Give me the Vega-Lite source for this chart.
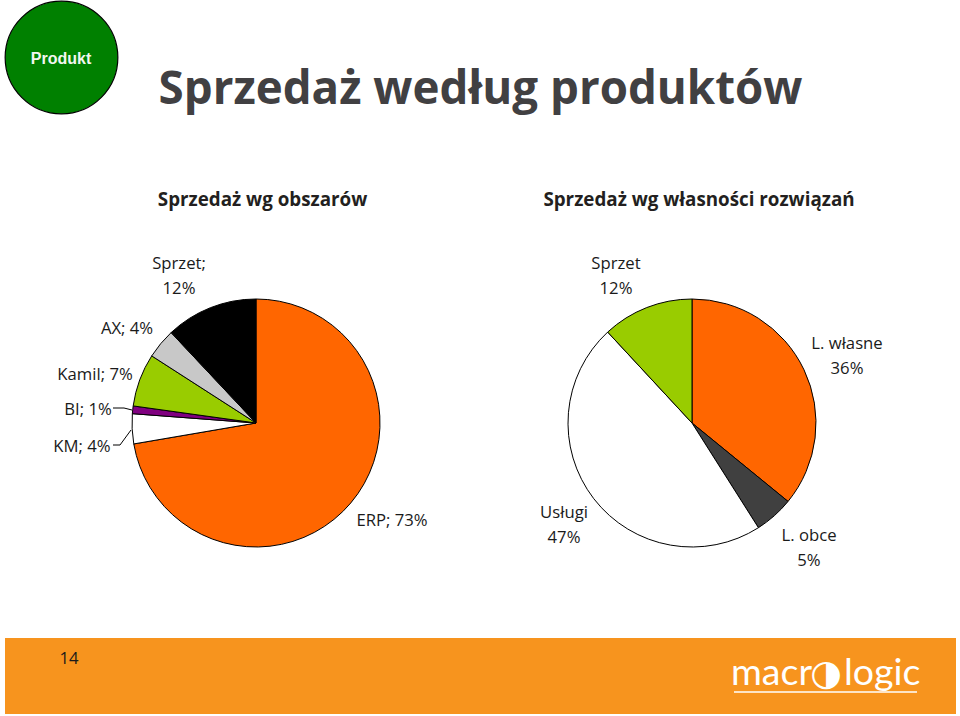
{
"$schema":"https://vega.github.io/schema/vega-lite/v6.json",
"width":960,"height":716,"autosize":"none","padding":0,"background":"white",
"config":{"view":{"stroke":null}},
"resolve":{"scale":{"x":"independent","y":"independent","color":"independent","theta":"independent"}},
"layer":[
{"data":{"values":[{"x":5,"x2":956,"y":638,"y2":714}]},"mark":{"type":"rect","fill":"#f7941e"},
"encoding":{"x":{"field":"x","type":"quantitative","scale":{"domain":[0,960]},"axis":null},"x2":{"field":"x2"},"y":{"field":"y","type":"quantitative","scale":{"domain":[716,0]},"axis":null},"y2":{"field":"y2"}}},
{"data":{"values":[{"x":61.5,"y":57.5}]},"mark":{"type":"circle","size":12700,"fill":"#008000","stroke":"#000000","strokeWidth":1.2,"opacity":1},
"encoding":{"x":{"field":"x","type":"quantitative","scale":{"domain":[0,960]},"axis":null},"y":{"field":"y","type":"quantitative","scale":{"domain":[716,0]},"axis":null}}},
{"data":{"values":[{"x":61,"y":58.5,"t":"Produkt"}]},"mark":{"type":"text","font":"Liberation Sans","fontWeight":"bold","fontSize":16,"fill":"#f2f7f0","align":"center","baseline":"middle"},
"encoding":{"x":{"field":"x","type":"quantitative","scale":{"domain":[0,960]},"axis":null},"y":{"field":"y","type":"quantitative","scale":{"domain":[716,0]},"axis":null},"text":{"field":"t"}}},
{"data":{"values":[{"x":480.5,"y":90,"t":"Sprzedaż według produktów"}]},"mark":{"type":"text","font":"Open Sans","fontWeight":"bold","fontSize":45.7,"fill":"#414042","align":"center","baseline":"middle"},
"encoding":{"x":{"field":"x","type":"quantitative","scale":{"domain":[0,960]},"axis":null},"y":{"field":"y","type":"quantitative","scale":{"domain":[716,0]},"axis":null},"text":{"field":"t"}}},
{"data":{"values":[{"x":262.5,"y":200,"t":"Sprzedaż wg obszarów"},{"x":699,"y":200,"t":"Sprzedaż wg własności rozwiązań"}]},"mark":{"type":"text","font":"Open Sans","fontWeight":"bold","fontSize":18.8,"fill":"#231f20","align":"center","baseline":"middle"},
"encoding":{"x":{"field":"x","type":"quantitative","scale":{"domain":[0,960]},"axis":null},"y":{"field":"y","type":"quantitative","scale":{"domain":[716,0]},"axis":null},"text":{"field":"t"}}},
{"data":{"values":[
{"pie":"obszary","key":"ERP","value":72.3,"o":1},{"pie":"obszary","key":"KM","value":3.9,"o":2},{"pie":"obszary","key":"BI","value":1,"o":3},{"pie":"obszary","key":"Kamil","value":6.9,"o":4},{"pie":"obszary","key":"AX","value":3.9,"o":5},{"pie":"obszary","key":"Sprzet","value":12,"o":6},
{"pie":"własność","key":"L. własne","value":35.9,"o":1},{"pie":"własność","key":"L. obce","value":5.1,"o":2},{"pie":"własność","key":"Usługi","value":47.1,"o":3},{"pie":"własność","key":"Sprzet własność","value":11.9,"o":4}]},
"transform":[{"stack":"value","groupby":["pie"],"sort":[{"field":"o","order":"ascending"}],"as":["v0","v1"]}],
"mark":{"type":"arc","radius":124,"stroke":"#000000","strokeWidth":1},
"encoding":{"x":{"field":"pie","type":"nominal","scale":{"type":"point","domain":["obszary","własność"],"range":[256,692],"padding":0},"axis":null},
"y":{"field":"pie","type":"nominal","scale":{"type":"point","domain":["obszary","własność"],"range":[423,423],"padding":0},"axis":null},
"theta":{"field":"v0","type":"quantitative","stack":null,"scale":{"domain":[0,100],"range":[0,6.283185]}},"theta2":{"field":"v1"},
"color":{"field":"key","type":"nominal","legend":null,"scale":{"domain":["ERP","KM","BI","Kamil","AX","Sprzet","L. własne","L. obce","Usługi","Sprzet własność"],"range":["#ff6600","#ffffff","#800080","#99cc00","#c8c8c8","#000000","#ff6600","#404040","#ffffff","#99cc00"]}}}},
{"data":{"values":[
{"s":"BI","o":1,"x":113,"y":408},{"s":"BI","o":2,"x":124,"y":408},{"s":"BI","o":3,"x":132,"y":410},
{"s":"KM","o":1,"x":113,"y":445},{"s":"KM","o":2,"x":120,"y":445},{"s":"KM","o":3,"x":131,"y":430}]},
"mark":{"type":"line","stroke":"#000000","strokeWidth":1},
"encoding":{"x":{"field":"x","type":"quantitative","scale":{"domain":[0,960]},"axis":null},"y":{"field":"y","type":"quantitative","scale":{"domain":[716,0]},"axis":null},"detail":{"field":"s"},"order":{"field":"o"}}},
{"data":{"values":[
{"x":179,"y":264,"t":"Sprzet;\n12%"},{"x":127,"y":329,"t":"AX; 4%"},{"x":95,"y":375,"t":"Kamil; 7%"},{"x":88,"y":410,"t":"BI; 1%"},{"x":82,"y":447,"t":"KM; 4%"},{"x":392,"y":521,"t":"ERP; 73%"},
{"x":616,"y":264,"t":"Sprzet\n12%"},{"x":847,"y":344,"t":"L. własne\n36%"},{"x":564,"y":513,"t":"Usługi\n47%"},{"x":809,"y":536,"t":"L. obce\n5%"},{"x":69,"y":659,"t":"14"}]},
"mark":{"type":"text","font":"Open Sans","fontSize":16.7,"fill":"#1a1a1a","align":"center","baseline":"middle","lineBreak":"\n","lineHeight":25},
"encoding":{"x":{"field":"x","type":"quantitative","scale":{"domain":[0,960]},"axis":null},"y":{"field":"y","type":"quantitative","scale":{"domain":[716,0]},"axis":null},"text":{"field":"t"}}},
{"data":{"values":[{"x":731,"y":674,"t":"macr"},{"x":844,"y":674,"t":"logic"}]},
"mark":{"type":"text","font":"Lato","fontWeight":400,"fontSize":37.5,"fill":"#ffffff","align":"left","baseline":"middle"},
"encoding":{"x":{"field":"x","type":"quantitative","scale":{"domain":[0,960]},"axis":null},"y":{"field":"y","type":"quantitative","scale":{"domain":[716,0]},"axis":null},"text":{"field":"t"}}},
{"data":{"values":[{"x":826,"y":674,"t":"◑"}]},
"mark":{"type":"text","font":"DejaVu Sans","fontSize":36,"fill":"#ffffff","align":"center","baseline":"middle"},
"encoding":{"x":{"field":"x","type":"quantitative","scale":{"domain":[0,960]},"axis":null},"y":{"field":"y","type":"quantitative","scale":{"domain":[716,0]},"axis":null},"text":{"field":"t"}}},
{"data":{"values":[{"x":734,"x2":917,"y":692}]},"mark":{"type":"rule","stroke":"#ffffff","strokeWidth":1.5},
"encoding":{"x":{"field":"x","type":"quantitative","scale":{"domain":[0,960]},"axis":null},"x2":{"field":"x2"},"y":{"field":"y","type":"quantitative","scale":{"domain":[716,0]},"axis":null}}}
]}
